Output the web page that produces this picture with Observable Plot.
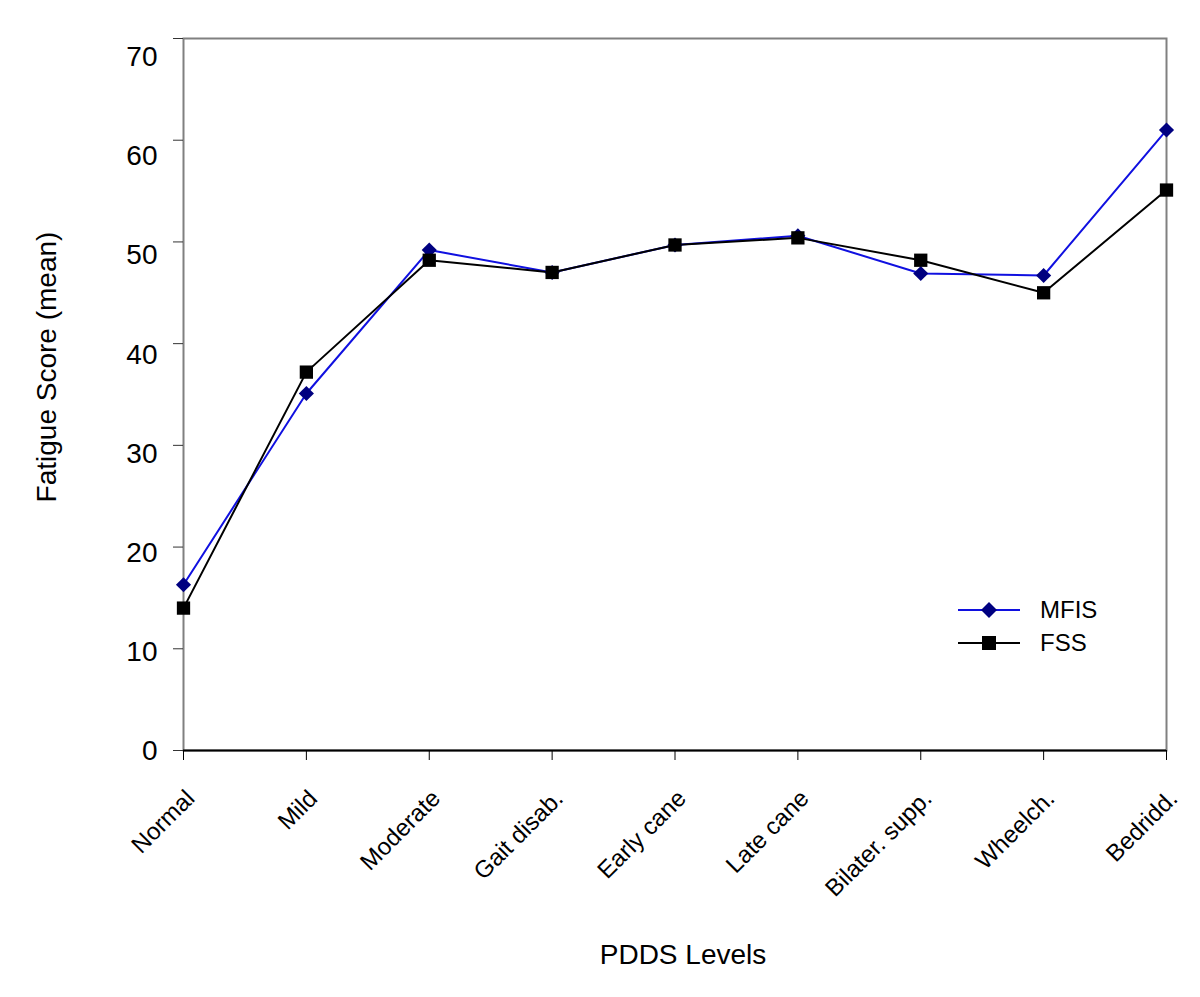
<!DOCTYPE html>
<html>
<head>
<meta charset="utf-8">
<script src="https://cdn.jsdelivr.net/npm/d3@7"></script>
<script src="https://cdn.jsdelivr.net/npm/@observablehq/plot@0.6"></script>
<style>
  html, body { margin: 0; padding: 0; background: #fff; }
  #wrap { position: relative; width: 1200px; height: 997px; font-family: "Liberation Sans", Arial, sans-serif; color: #000; }
  #legend { position: absolute; left: 958px; top: 593px; font-size: 24px; }
  .row { display: flex; align-items: center; height: 33px; }
  .row svg { margin-right: 20px; }
  .ytitle { position: absolute; left: 47px; top: 367px; font-size: 28px; white-space: nowrap;
            transform: translate(-50%, -50%) rotate(-90deg); }
  .xtitle { position: absolute; left: 683px; top: 955px; font-size: 28px; white-space: nowrap;
            transform: translate(-50%, -50%); }
</style>
</head>
<body>
<div id="wrap"></div>
<script>
const categories = ["Normal", "Mild", "Moderate", "Gait disab.", "Early cane", "Late cane", "Bilater. supp.", "Wheelch.", "Bedridd."];
const mfis = [16.3, 35.1, 49.2, 47.0, 49.7, 50.6, 46.9, 46.7, 61.0];
const fss  = [14.0, 37.2, 48.2, 47.0, 49.7, 50.4, 48.2, 45.0, 55.1];
const yTicks = [0, 10, 20, 30, 40, 50, 60, 70];
const seriesNames = ["MFIS", "FSS"];
const xTitle = "PDDS Levels";
const yTitle = "Fatigue Score (mean)";

const mfisData = categories.map((c, i) => ({level: c, value: mfis[i]}));
const fssData = categories.map((c, i) => ({level: c, value: fss[i]}));

// The source draws its value labels slightly lower than their ticks, more so higher up
const yLabelMarks = yTicks.map(t => Plot.axisY({
  ticks: [t], tickSize: 0, tickPadding: 26, dy: 1 + t * 0.25,
  tickFormat: d => d, fontSize: 28, label: null
}));

const chart = Plot.plot({
  width: 1200,
  height: 997,
  marginLeft: 183,
  marginRight: 34,
  marginTop: 38,
  marginBottom: 247,
  style: {fontFamily: "'Liberation Sans', Arial, sans-serif", fontSize: "28px", color: "#000", background: "#fff"},
  x: {type: "point", domain: categories, padding: 0, round: false},
  y: {domain: [0, 70]},
  marks: [
    Plot.frame({stroke: "#808080", strokeWidth: 2}),
    Plot.axisY({ticks: yTicks, tickSize: 10, tickFormat: () => "", stroke: "#333", label: null}),
    ...yLabelMarks,
    Plot.axisX({tickSize: 10, tickFormat: () => "", stroke: "#000", label: null}),
    Plot.axisX({tickSize: 0, tickRotate: -45, tickPadding: 44, dx: 7, fontSize: 24, label: null}),
    Plot.ruleY([0], {stroke: "#000", strokeWidth: 2}),
    Plot.line(mfisData, {x: "level", y: "value", stroke: "#1010e0", strokeWidth: 2}),
    Plot.line(fssData, {x: "level", y: "value", stroke: "#000", strokeWidth: 2}),
    Plot.dot(mfisData, {x: "level", y: "value", symbol: "diamond2", r: 6.8, fill: "#000080", stroke: "none"}),
    Plot.dot(fssData, {x: "level", y: "value", symbol: "square", r: 7.5, fill: "#000", stroke: "none"})
  ]
});

const wrap = document.getElementById("wrap");
wrap.appendChild(chart);

const yt = document.createElement("div");
yt.className = "ytitle"; yt.textContent = yTitle; wrap.appendChild(yt);
const xt = document.createElement("div");
xt.className = "xtitle"; xt.textContent = xTitle; wrap.appendChild(xt);

const legend = document.createElement("div");
legend.id = "legend";
const symbols = [
  `<svg width="62" height="20"><line x1="0" y1="10" x2="62" y2="10" stroke="#1010e0" stroke-width="2"/><path d="M31,2 L39,10 L31,18 L23,10 Z" fill="#000080"/></svg>`,
  `<svg width="62" height="20"><line x1="0" y1="10" x2="62" y2="10" stroke="#000" stroke-width="2"/><rect x="24" y="3" width="14" height="14" fill="#000"/></svg>`
];
seriesNames.forEach((name, i) => {
  const row = document.createElement("div");
  row.className = "row";
  row.innerHTML = symbols[i] + `<span>${name}</span>`;
  legend.appendChild(row);
});
wrap.appendChild(legend);
</script>
</body>
</html>
